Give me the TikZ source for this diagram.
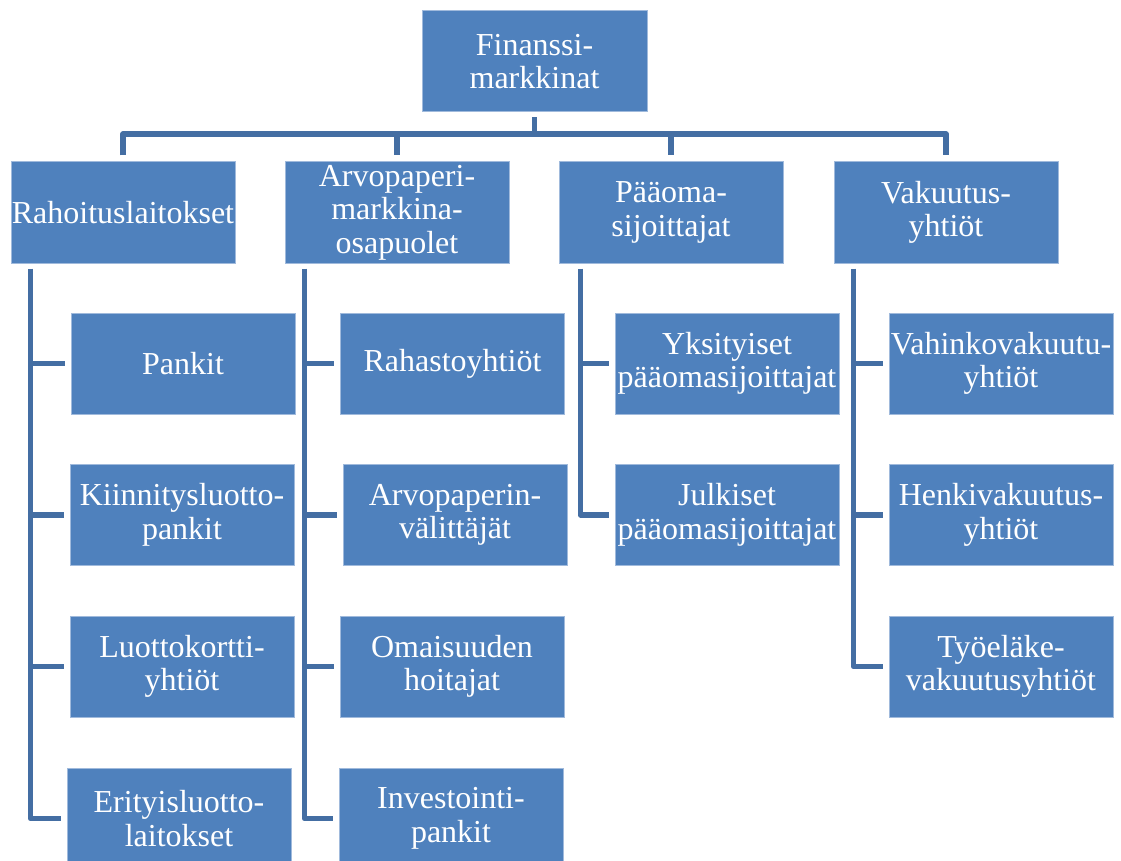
\documentclass[tikz,border=0pt]{standalone}
\usepackage{fontspec}
\setmainfont{Liberation Serif}
\definecolor{boxfill}{RGB}{79,129,189}
\definecolor{boxedge}{RGB}{160,186,220}
\definecolor{linkcol}{RGB}{68,110,163}
\tikzset{
  orgbox/.style={rectangle, fill=boxfill, draw=boxedge, line width=1pt,
    minimum width=224pt, minimum height=101pt, inner sep=0pt, align=center,
    text=white, font=\fontsize{32}{33.5}\selectfont},
  conn/.style={draw=linkcol, line width=5.5pt, line join=round}
}
\begin{document}
\begin{tikzpicture}[x=1pt,y=-1pt]
\useasboundingbox (0,0) rectangle (1121,861);
\clip (0,0) rectangle (1121,861);

% root
\node[orgbox, minimum width=225pt] (top) at (534.5,61.5) {Finanssi-\\markkinat};

% first level
\node[orgbox] (A) at (123,212.5) {Rahoituslaitokset};
\node[orgbox] (B) at (397,212.5) {Arvopaperi-\\markkina-\\osapuolet};
\node[orgbox] (C) at (671,212.5) {Pääoma-\\sijoittajat};
\node[orgbox] (D) at (946,212.5) {Vakuutus-\\yhtiöt};

% second level: Rahoituslaitokset
\node[orgbox] (A1) at (183,363.5) {Pankit};
\node[orgbox] (A2) at (182,515) {Kiinnitysluotto-\\pankit};
\node[orgbox] (A3) at (182,666.5) {Luottokortti-\\yhtiöt};
\node[orgbox] (A4) at (179,818.5) {Erityisluotto-\\laitokset};

% second level: Arvopaperimarkkinaosapuolet
\node[orgbox] (B1) at (452.5,363.5) {Rahastoyhtiöt};
\node[orgbox] (B2) at (455,515) {Arvopaperin-\\välittäjät};
\node[orgbox] (B3) at (452,666.5) {Omaisuuden\\hoitajat};
\node[orgbox] (B4) at (451,818.5) {Investointi-\\pankit};

% second level: Pääomasijoittajat
\node[orgbox] (C1) at (727,363.5) {Yksityiset\\pääomasijoittajat};
\node[orgbox] (C2) at (727,515) {Julkiset\\pääomasijoittajat};

% second level: Vakuutusyhtiöt
\node[orgbox] (D1) at (1001,363.5) {Vahinkovakuutu-\\yhtiöt};
\node[orgbox] (D2) at (1001,515) {Henkivakuutus-\\yhtiöt};
\node[orgbox] (D3) at (1001,666.5) {Työeläke-\\vakuutusyhtiöt};

% bus from the root to the first level
\coordinate (bus) at (0,134);
\draw[conn] ([yshift=-5pt]top.south) -- (top.south |- bus);
\draw[conn] ([yshift=6pt]A.north) -- (A.north |- bus) -- (D.north |- bus) -- ([yshift=6pt]D.north);
\draw[conn] (B.north |- bus) -- ([yshift=6pt]B.north);
\draw[conn] (C.north |- bus) -- ([yshift=6pt]C.north);

% spines under the first level
\coordinate (As) at ([xshift=20pt,yshift=-5pt]A.south west);
\coordinate (Bs) at ([xshift=20pt,yshift=-5pt]B.south west);
\coordinate (Cs) at ([xshift=22pt,yshift=-5pt]C.south west);
\coordinate (Ds) at ([xshift=20pt,yshift=-5pt]D.south west);

\draw[conn] (As) |- ([xshift=-6pt]A4.west);
\draw[conn] (A1.west -| As) -- ([xshift=-6pt]A1.west);
\draw[conn] (A2.west -| As) -- ([xshift=-6pt]A2.west);
\draw[conn] (A3.west -| As) -- ([xshift=-6pt]A3.west);

\draw[conn] (Bs) |- ([xshift=-6pt]B4.west);
\draw[conn] (B1.west -| Bs) -- ([xshift=-6pt]B1.west);
\draw[conn] (B2.west -| Bs) -- ([xshift=-6pt]B2.west);
\draw[conn] (B3.west -| Bs) -- ([xshift=-6pt]B3.west);

\draw[conn] (Cs) |- ([xshift=-6pt]C2.west);
\draw[conn] (C1.west -| Cs) -- ([xshift=-6pt]C1.west);

\draw[conn] (Ds) |- ([xshift=-6pt]D3.west);
\draw[conn] (D1.west -| Ds) -- ([xshift=-6pt]D1.west);
\draw[conn] (D2.west -| Ds) -- ([xshift=-6pt]D2.west);
\end{tikzpicture}
\end{document}
